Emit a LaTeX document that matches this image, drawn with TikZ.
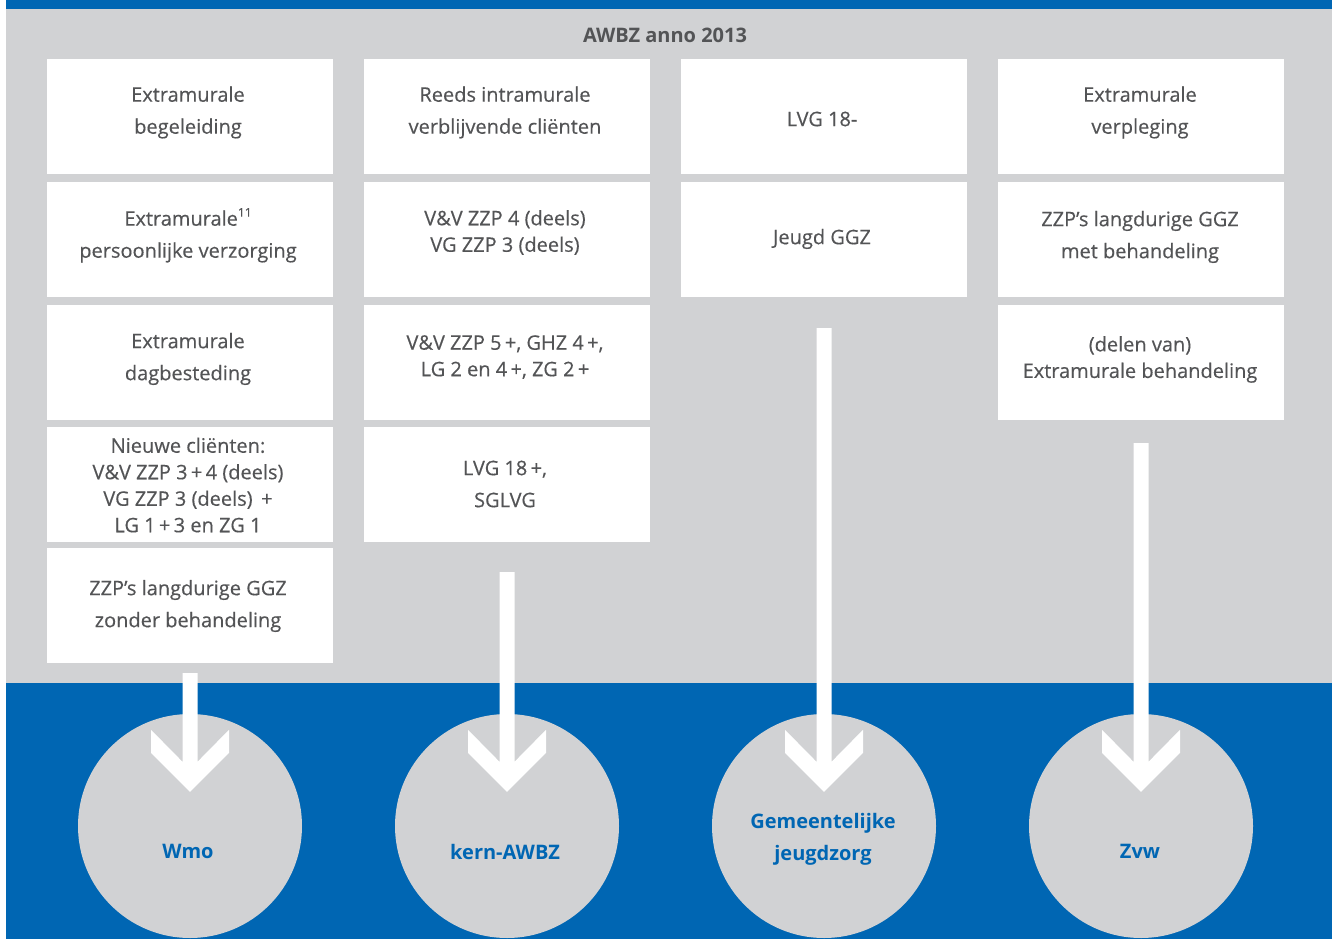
\documentclass[tikz,border=0pt]{standalone}
\usepackage{fontspec}
\setmainfont{Open Sans}[UprightFeatures={FakeBold=0.35}]
\usetikzlibrary{calc}
\definecolor{roblue}{HTML}{0066B3}
\definecolor{panelgray}{HTML}{D1D2D4}
\definecolor{inkgray}{HTML}{535456}
\tikzset{
  cell/.style={fill=white, draw=none, minimum width=286pt, minimum height=115pt, inner sep=0pt},
  celltext/.style={text=inkgray, align=center, inner sep=0pt, font=\fontsize{20}{32}\selectfont},
  celltight/.style={celltext, font=\fontsize{20}{26.5}\selectfont},
  goal/.style={circle, fill=panelgray, draw=none, minimum size=224pt, inner sep=0pt},
  goaltext/.style={text=roblue, align=center, inner sep=0pt, font=\bfseries\fontsize{20}{32}\selectfont},
  flow/.style={fill=white, draw=none}
}
% white block arrow: shaft leaves #1 after a gap of #2, chevron head lands in circle #3
\newcommand\flowarrow[3]{%
  \fill[flow] ($(#1.south)+(-7.5,#2)$) -- ($(#1.south)+(7.5,#2)$)
    -- ($(#3.north)+(7.5,48)$) -- ($(#3.north)+(39,16)$) -- ($(#3.north)+(39,39)$)
    -- ($(#3.north)+(0,78)$)
    -- ($(#3.north)+(-39,39)$) -- ($(#3.north)+(-39,16)$) -- ($(#3.north)+(-7.5,48)$)
    -- cycle;}
% small raised footnote number that does not widen the line height
\newcommand\supnum[1]{\smash{\raisebox{0.45em}{\fontsize{12}{12}\selectfont #1}}}
\begin{document}
\begin{tikzpicture}[x=1pt,y=-1pt]
\useasboundingbox (0,0) rectangle (1332,939);
% background bands
\fill[roblue] (6,0) rectangle (1332,9);
\fill[panelgray] (6,9) rectangle (1332,683);
\fill[roblue] (6,683) rectangle (1332,939);

\node[text=inkgray, inner sep=0pt, font=\bfseries\fontsize{20}{24}\selectfont] (title) at (665,35) {AWBZ anno 2013};

% column 1
\node[cell] (a1) at (190,116.5) {};
\node[celltext] (a1t) at (188,112.5) {Extramurale\\begeleiding};
\node[cell] (a2) at (190,239.5) {};
\node[celltext] (a2t) at (188,236.5) {Extramurale\supnum{11}\\persoonlijke verzorging};
\node[cell] (a3) at (190,362.5) {};
\node[celltext] (a3t) at (188,359) {Extramurale\\dagbesteding};
\node[cell] (a4) at (190,484.5) {};
\node[celltight] (a4t) at (188,485) {Nieuwe cliënten:\\V\&V ZZP 3\,+\,4 (deels)\\VG ZZP 3 (deels) \,+\\LG 1\,+\,3 en ZG 1};
\node[cell] (a5) at (190,605.5) {};
\node[celltext] (a5t) at (188,606) {ZZP’s langdurige GGZ\\zonder behandeling};

% column 2
\node[cell] (b1) at (507,116.5) {};
\node[celltext] (b1t) at (505,112.5) {Reeds intramurale\\verblijvende cliënten};
\node[cell] (b2) at (507,239.5) {};
\node[celltight] (b2t) at (505,232.5) {V\&V ZZP 4 (deels)\\VG ZZP 3 (deels)};
\node[cell] (b3) at (507,362.5) {};
\node[celltight] (b3t) at (505,357) {V\&V ZZP 5\,+, GHZ 4\,+,\\LG 2 en 4\,+, ZG 2\,+};
\node[cell] (b4) at (507,484.5) {};
\node[celltext] (b4t) at (505,484) {LVG 18\,+,\\SGLVG};

% column 3
\node[cell] (c1) at (824,116.5) {};
\node[celltext] (c1t) at (822,119) {LVG 18-};
\node[cell] (c2) at (824,239.5) {};
\node[celltext] (c2t) at (822,239) {Jeugd GGZ};

% column 4
\node[cell] (d1) at (1141,116.5) {};
\node[celltext] (d1t) at (1140,112.5) {Extramurale\\verpleging};
\node[cell] (d2) at (1141,239.5) {};
\node[celltext] (d2t) at (1140,237) {ZZP’s langdurige GGZ\\met behandeling};
\node[cell] (d3) at (1141,362.5) {};
\node[celltight] (d3t) at (1140,359.5) {(delen van)\\Extramurale behandeling};

% destinations
\node[goal] (wmo) at (190,826) {};
\node[goal] (kern) at (507,826) {};
\node[goal] (jeugd) at (824,826) {};
\node[goal] (zvw) at (1141,826) {};

% flows
\flowarrow{a5}{10}{wmo}
\flowarrow{b4}{30}{kern}
\flowarrow{c2}{31}{jeugd}
\flowarrow{d3}{23}{zvw}

\node[goaltext] (wmot) at (188,851.5) {Wmo};
\node[goaltext] (kernt) at (505,852) {kern-AWBZ};
\node[goaltext] (jeugdt) at (823,839) {Gemeentelijke\\jeugdzorg};
\node[goaltext] (zvwt) at (1140,851.5) {Zvw};
\end{tikzpicture}
\end{document}
